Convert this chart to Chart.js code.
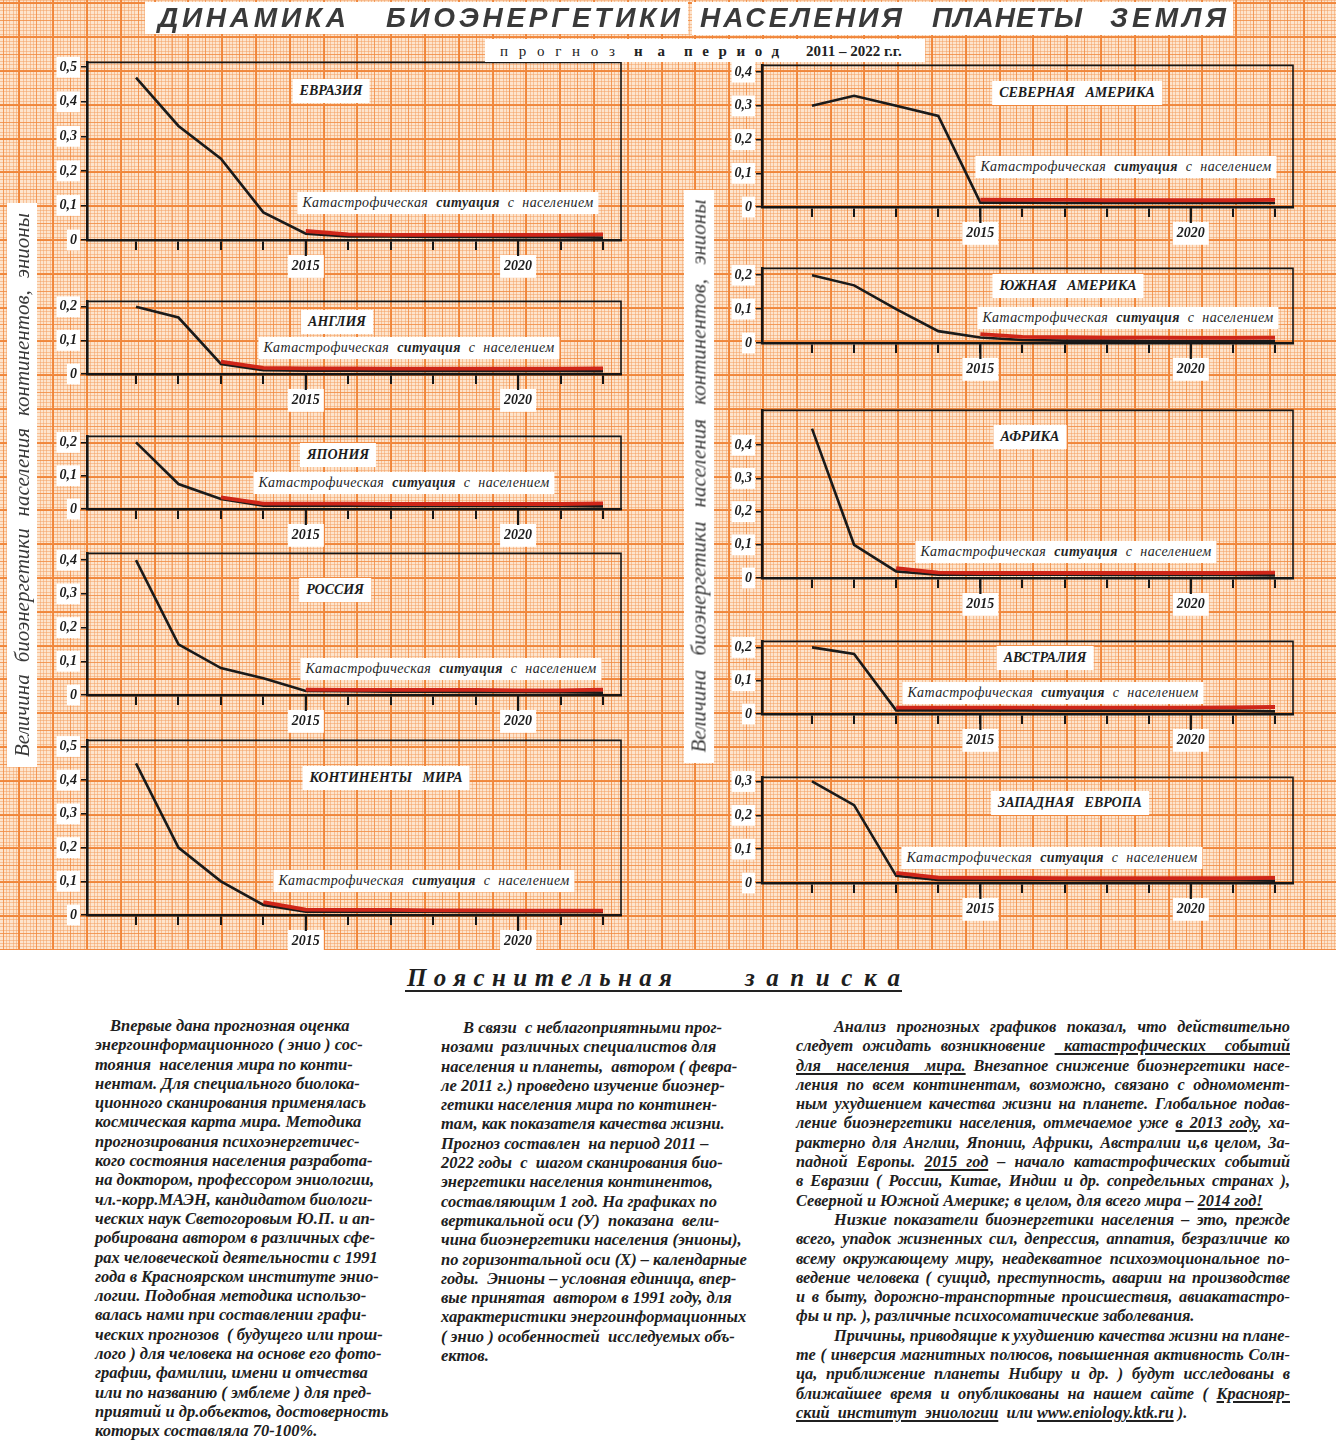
<!DOCTYPE html>
<html lang="ru">
<head>
<meta charset="utf-8">
<title>Динамика биоэнергетики населения планеты Земля</title>
<script src="https://cdn.jsdelivr.net/npm/chart.js@4.4.1/dist/chart.umd.min.js"></script>
<style>
html, body { margin: 0; padding: 0; background: #fff; }
body { width: 1340px; height: 1455px; position: relative; overflow: hidden; font-family: "Liberation Serif", "DejaVu Serif", serif; color: #222; }
#paper { position: absolute; left: 0; top: 0; }
.chart { position: absolute; }
.tag { position: absolute; background: #fff; white-space: pre; transform: translate(-50%, -50%); font: bold italic 14px "Liberation Serif"; color: #1c1c1c; padding: 4px 7px; }
.note { position: absolute; background: #fff; white-space: nowrap; transform: translate(-50%, -50%); font: italic 14px "Liberation Serif"; color: #262626; padding: 3px 5px; letter-spacing: 0.4px; word-spacing: 4px; }
.strip { position: absolute; background: #fff; }
.word { position: absolute; white-space: pre; transform: translateY(-50%); }
.vtitle { position: absolute; background: #fff; transform: rotate(-90deg); font: italic 21px "Liberation Serif"; color: #3a3a3a; text-align: justify; text-align-last: justify; white-space: normal; height: 30px; line-height: 30px; padding: 0 10px; box-sizing: content-box; }
.col { position: absolute; font: bold italic 16.5px "Liberation Serif"; color: #202020; }
.col div { height: 19.3px; line-height: 19.3px; white-space: pre; }
.col.just { font-size: 16.3px; }
.col.just div { white-space: nowrap; }
u { text-decoration-thickness: 1.5px; text-underline-offset: 2px; }
</style>
</head>
<body>
<canvas id="paper" width="1336" height="950"></canvas>

<script>
// годы прогноза
const years = [2011, 2012, 2013, 2014, 2015, 2016, 2017, 2018, 2019, 2020, 2021, 2022];
const labeledYears = [2015, 2020];

// деления вертикальной оси
const ticks05 = [0, 0.1, 0.2, 0.3, 0.4, 0.5];
const ticks04 = [0, 0.1, 0.2, 0.3, 0.4];
const ticks03 = [0, 0.1, 0.2, 0.3];
const ticks02 = [0, 0.1, 0.2];

// биоэнергетика (энионы): черная линия и красная "катастрофическая" линия
const eurasiaLine = [0.47, 0.33, 0.235, 0.08, 0.018, 0.01, 0.01, 0.009, 0.009, 0.008, 0.008, 0.007];
const eurasiaRed = [null, null, null, null, 0.026, 0.016, 0.015, 0.015, 0.015, 0.015, 0.015, 0.016];
const englandLine = [0.2, 0.168, 0.03, 0.011, 0.01, 0.01, 0.009, 0.009, 0.009, 0.009, 0.009, 0.008];
const englandRed = [null, null, 0.037, 0.018, 0.017, 0.017, 0.016, 0.016, 0.016, 0.016, 0.016, 0.017];
const japanLine = [0.2, 0.075, 0.03, 0.01, 0.01, 0.01, 0.009, 0.009, 0.009, 0.009, 0.009, 0.008];
const japanRed = [null, null, 0.035, 0.016, 0.016, 0.016, 0.015, 0.015, 0.015, 0.015, 0.015, 0.017];
const russiaLine = [0.4, 0.15, 0.08, 0.05, 0.012, 0.011, 0.01, 0.01, 0.009, 0.009, 0.008, 0.007];
const russiaRed = [null, null, null, null, 0.016, 0.015, 0.015, 0.015, 0.015, 0.014, 0.014, 0.016];
const worldLine = [0.45, 0.2, 0.1, 0.03, 0.01, 0.01, 0.01, 0.01, 0.009, 0.009, 0.009, 0.009];
const worldRed = [null, null, null, 0.038, 0.016, 0.015, 0.015, 0.014, 0.014, 0.013, 0.013, 0.013];
const northAmLine = [0.3, 0.33, 0.3, 0.27, 0.013, 0.013, 0.012, 0.012, 0.012, 0.012, 0.012, 0.012];
const northAmRed = [null, null, null, null, 0.022, 0.021, 0.021, 0.02, 0.02, 0.02, 0.02, 0.021];
const southAmLine = [0.2, 0.17, 0.1, 0.035, 0.016, 0.009, 0.007, 0.007, 0.006, 0.006, 0.006, 0.006];
const southAmRed = [null, null, null, null, 0.026, 0.018, 0.017, 0.016, 0.016, 0.015, 0.015, 0.016];
const africaLine = [0.45, 0.1, 0.02, 0.01, 0.01, 0.01, 0.01, 0.009, 0.009, 0.009, 0.009, 0.008];
const africaRed = [null, null, 0.03, 0.016, 0.015, 0.015, 0.015, 0.015, 0.015, 0.015, 0.015, 0.016];
const australiaLine = [0.2, 0.18, 0.011, 0.011, 0.011, 0.011, 0.01, 0.01, 0.01, 0.01, 0.01, 0.008];
const australiaRed = [null, null, 0.019, 0.019, 0.019, 0.019, 0.019, 0.019, 0.019, 0.019, 0.02, 0.021];
const westEuLine = [0.3, 0.23, 0.021, 0.009, 0.009, 0.009, 0.009, 0.008, 0.008, 0.008, 0.008, 0.007];
const westEuRed = [null, null, 0.03, 0.016, 0.015, 0.015, 0.014, 0.014, 0.014, 0.014, 0.014, 0.015];

const noteText = "Катастрофическая <b>ситуация</b> с населением";

/* колонки страницы: ось Y, правая рамка, пиксели 2011 и 2022 */
const colL = { axis: 87, right: 621, px2011: 136, px2022: 603 };
const colR = { axis: 762, right: 1293, px2011: 812, px2022: 1275 };

const panels = [
  { name: "ЕВРАЗИЯ", line: eurasiaLine, red: eurasiaRed, ticks: ticks05, yMax: 0.514, col: colL, top: 62, bottom: 240, tag: [331, 91], note: [448, 203] },
  { name: "АНГЛИЯ", line: englandLine, red: englandRed, ticks: ticks02, yMax: 0.216, col: colL, top: 301, bottom: 374, tag: [337, 322], note: [409, 348] },
  { name: "ЯПОНИЯ", line: japanLine, red: japanRed, ticks: ticks02, yMax: 0.218, col: colL, top: 436, bottom: 509, tag: [338, 455], note: [404, 483] },
  { name: "РОССИЯ", line: russiaLine, red: russiaRed, ticks: ticks04, yMax: 0.42, col: colL, top: 553, bottom: 695, tag: [335, 590], note: [451, 669] },
  { name: "КОНТИНЕНТЫ   МИРА", line: worldLine, red: worldRed, ticks: ticks05, yMax: 0.518, col: colL, top: 740, bottom: 915, tag: [386, 778], note: [424, 881] },
  { name: "СЕВЕРНАЯ   АМЕРИКА", line: northAmLine, red: northAmRed, ticks: ticks04, yMax: 0.42, col: colR, top: 65, bottom: 207, tag: [1077, 93], note: [1126, 167] },
  { name: "ЮЖНАЯ   АМЕРИКА", line: southAmLine, red: southAmRed, ticks: ticks02, yMax: 0.22, col: colR, top: 268, bottom: 343, tag: [1068, 286], note: [1128, 318] },
  { name: "АФРИКА", line: africaLine, red: africaRed, ticks: ticks04, yMax: 0.505, col: colR, top: 410, bottom: 578, tag: [1030, 437], note: [1066, 552] },
  { name: "АВСТРАЛИЯ", line: australiaLine, red: australiaRed, ticks: ticks02, yMax: 0.218, col: colR, top: 641, bottom: 714, tag: [1045, 658], note: [1053, 693] },
  { name: "ЗАПАДНАЯ   ЕВРОПА", line: westEuLine, red: westEuRed, ticks: ticks03, yMax: 0.312, col: colR, top: 777, bottom: 883, tag: [1070, 803], note: [1052, 858] }
];

/* миллиметровка */
function drawPaper() {
  const c = document.getElementById("paper");
  const g = c.getContext("2d");
  const W = c.width, H = c.height;
  g.fillStyle = "#fde4cd";
  g.fillRect(0, 0, W, H);
  const big = 33.8, fine = big / 10;
  const offX = 87 % big, offY = 240 % big;
  function lines(step, ox, oy, color, width) {
    g.strokeStyle = color;
    g.lineWidth = width;
    g.beginPath();
    const half = width % 2 ? 0.5 : 0;
    for (let x = ox; x < W; x += step) {
      const px = Math.round(x) + half;
      g.moveTo(px, 0); g.lineTo(px, H);
    }
    for (let y = oy; y < H; y += step) {
      const py = Math.round(y) + half;
      g.moveTo(0, py); g.lineTo(W, py);
    }
    g.stroke();
  }
  lines(fine, offX % fine, offY % fine, "rgba(243,158,96,0.5)", 1);
  lines(fine * 5, offX % (fine * 5), offY % (fine * 5), "rgba(241,138,66,0.7)", 1);
  lines(big, offX, offY, "rgba(240,132,56,0.92)", 2);
}
drawPaper();

const framePlugin = {
  id: "frame",
  beforeDatasetsDraw(chart) {
    const { ctx, chartArea: a } = chart;
    ctx.save();
    ctx.strokeStyle = "#161616";
    ctx.lineWidth = 1.6;
    ctx.beginPath();
    ctx.moveTo(a.left, a.top);
    ctx.lineTo(a.right, a.top);
    ctx.lineTo(a.right, a.bottom);
    ctx.stroke();
    ctx.restore();
  }
};

const longTicks = {
  id: "longTicks",
  afterDraw(chart) {
    const { ctx, chartArea: a } = chart;
    const sx = chart.scales.x;
    ctx.save();
    ctx.strokeStyle = "#161616";
    ctx.lineWidth = 2.2;
    labeledYears.forEach(v => {
      const px = sx.getPixelForValue(v);
      ctx.beginPath();
      ctx.moveTo(px, a.bottom);
      ctx.lineTo(px, a.bottom + 16);
      ctx.stroke();
    });
    ctx.restore();
  }
};

const AXW = 52, PADT = 12, PADR = 10, XH = 40;

function makePanel(p) {
  const col = p.col;
  const perYear = (col.px2022 - col.px2011) / 11;
  const xMin = 2011 - (col.px2011 - col.axis) / perYear;
  const xMax = 2022 + (col.right - col.px2022) / perYear;

  const cv = document.createElement("canvas");
  cv.className = "chart";
  const w = col.right - col.axis + AXW + PADR;
  const h = p.bottom - p.top + PADT + XH;
  cv.width = w; cv.height = h;
  cv.style.left = (col.axis - AXW) + "px";
  cv.style.top = (p.top - PADT) + "px";
  document.body.appendChild(cv);

  const tickFont = { family: "Liberation Serif", size: 14, weight: "bold", style: "italic" };

  new Chart(cv, {
    type: "line",
    data: {
      datasets: [
        {
          data: years.map((y, k) => ({ x: y, y: p.red[k] })),
          borderColor: "#cf2619",
          borderWidth: 3.8,
          pointRadius: 0,
          tension: 0,
          spanGaps: false
        },
        {
          data: years.map((y, k) => ({ x: y, y: p.line[k] })),
          borderColor: "#1a1a1a",
          borderWidth: 2.6,
          pointRadius: 0,
          tension: 0
        }
      ]
    },
    options: {
      responsive: false,
      animation: false,
      layout: { padding: { top: PADT, right: PADR, left: 0, bottom: 0 } },
      plugins: { legend: { display: false }, tooltip: { enabled: false } },
      scales: {
        x: {
          type: "linear",
          min: xMin,
          max: xMax,
          afterBuildTicks: s => { s.ticks = years.map(v => ({ value: v })); },
          afterFit: s => { s.height = XH; },
          grid: { drawOnChartArea: false, drawTicks: true, tickLength: 10, color: "#161616", lineWidth: 2 },
          border: { display: true, color: "#161616", width: 2.6 },
          ticks: {
            autoSkip: false,
            maxRotation: 0,
            padding: 8,
            color: "#1c1c1c",
            font: tickFont,
            callback: v => labeledYears.includes(v) ? String(v) : "",
            showLabelBackdrop: true,
            backdropColor: c => labeledYears.includes(c.tick && c.tick.value) ? "#ffffff" : "rgba(0,0,0,0)",
            backdropPadding: { x: 4, y: 3 }
          }
        },
        y: {
          min: 0,
          max: p.yMax,
          afterBuildTicks: s => { s.ticks = p.ticks.map(v => ({ value: v })); },
          afterFit: s => { s.width = AXW; },
          grid: { drawOnChartArea: false, drawTicks: true, tickLength: 6, color: "#161616", lineWidth: 1.5 },
          border: { display: true, color: "#161616", width: 2.6 },
          ticks: {
            padding: 4,
            color: "#1c1c1c",
            font: tickFont,
            callback: v => v === 0 ? "0" : v.toFixed(1).replace(".", ","),
            showLabelBackdrop: true,
            backdropColor: "#ffffff",
            backdropPadding: { x: 3, y: 2 }
          }
        }
      }
    },
    plugins: [framePlugin, longTicks]
  });

  const tag = document.createElement("div");
  tag.className = "tag";
  tag.textContent = p.name;
  tag.style.left = p.tag[0] + "px";
  tag.style.top = p.tag[1] + "px";
  document.body.appendChild(tag);

  const note = document.createElement("div");
  note.className = "note";
  note.innerHTML = noteText;
  note.style.left = p.note[0] + "px";
  note.style.top = p.note[1] + "px";
  document.body.appendChild(note);
}

panels.forEach(makePanel);
</script>

<!-- заголовок -->
<div class="strip" style="left:145px;top:2px;width:543px;height:32px;"></div>
<div class="strip" style="left:692px;top:2px;width:541px;height:33px;"></div>
<div class="word fit" data-l="158" data-r="346" style="top:18px;font:bold italic 28px 'Liberation Sans';color:#3a3a3a;">ДИНАМИКА</div>
<div class="word fit" data-l="386" data-r="680" style="top:18px;font:bold italic 28px 'Liberation Sans';color:#3a3a3a;">БИОЭНЕРГЕТИКИ</div>
<div class="word fit" data-l="700" data-r="902" style="top:18px;font:bold italic 28px 'Liberation Sans';color:#3a3a3a;">НАСЕЛЕНИЯ</div>
<div class="word fit" data-l="932" data-r="1082" style="top:18px;font:bold italic 28px 'Liberation Sans';color:#3a3a3a;">ПЛАНЕТЫ</div>
<div class="word fit" data-l="1110" data-r="1226" style="top:18px;font:bold italic 28px 'Liberation Sans';color:#3a3a3a;">ЗЕМЛЯ</div>

<div class="strip" style="left:485px;top:39px;width:440px;height:23px;"></div>
<div class="word fit" data-l="500" data-r="615" style="top:51px;font:15px 'Liberation Serif';color:#222;">прогноз</div>
<div class="word fit" data-l="634" data-r="665" style="top:51px;font:bold 15px 'Liberation Serif';color:#222;">на</div>
<div class="word fit" data-l="684" data-r="779" style="top:51px;font:bold 15px 'Liberation Serif';color:#222;">период</div>
<div class="word" style="left:806px;top:51px;font:bold 15px 'Liberation Serif';color:#222;">2011 – 2022 г.г.</div>

<!-- подписи вертикальных осей -->
<div class="vtitle" style="left:-260px;top:470px;width:544px;">Величина биоэнергетики населения континентов, энионы</div>
<div class="vtitle" style="left:412px;top:461px;width:553px;">Величина биоэнергетики населения континентов, энионы</div>

<!-- пояснительная записка -->
<div class="word fit" data-l="407" data-r="672" style="top:978px;font:bold italic 25px 'Liberation Serif';color:#1e1e1e;">Пояснительная</div>
<div class="word fit" data-l="745" data-r="900" style="top:978px;font:bold italic 25px 'Liberation Serif';color:#1e1e1e;">записка</div>
<div class="strip" style="left:405px;top:990px;width:497px;height:2px;background:#222;"></div>

<div class="col" id="c1" style="left:95px;top:1016px;width:300px;"></div>
<div class="col" id="c2" style="left:441px;top:1018px;width:320px;"></div>
<div class="col just" id="c3" style="left:796px;top:1017px;width:494px;"></div>

<script>
const col1 = [
  ">Впервые дана прогнозная оценка",
  "энергоинформационного ( энио ) сос-",
  "тояния  населения мира по конти-",
  "нентам. Для специального биолока-",
  "ционного сканирования применялась",
  "космическая карта мира. Методика",
  "прогнозирования психоэнергетичес-",
  "кого состояния населения разработа-",
  "на доктором, профессором эниологии,",
  "чл.-корр.МАЭН, кандидатом биологи-",
  "ческих наук Светогоровым Ю.П. и ап-",
  "робирована автором в различных сфе-",
  "рах человеческой деятельности с 1991",
  "года в Красноярском институте энио-",
  "логии. Подобная методика использо-",
  "валась нами при составлении графи-",
  "ческих прогнозов  ( будущего или прош-",
  "лого ) для человека на основе его фото-",
  "графии, фамилии, имени и отчества",
  "или по названию ( эмблеме ) для пред-",
  "приятий и др.объектов, достоверность",
  "которых составляла 70-100%."
];
const col2 = [
  ">В связи  с неблагоприятными прог-",
  "нозами  различных специалистов для",
  "населения и планеты,  автором ( февра-",
  "ле 2011 г.) проведено изучение биоэнер-",
  "гетики населения мира по континен-",
  "там, как показателя качества жизни.",
  "Прогноз составлен  на период 2011 –",
  "2022 годы  с  шагом сканирования био-",
  "энергетики населения континентов,",
  "составляющим 1 год. На графиках по",
  "вертикальной оси (У)  показана  вели-",
  "чина биоэнергетики населения (энионы),",
  "по горизонтальной оси (Х) – календарные",
  "годы.  Энионы – условная единица, впер-",
  "вые принятая  автором в 1991 году, для",
  "характеристики энергоинформационных",
  "( энио ) особенностей  исследуемых объ-",
  "ектов."
];
const col3 = [
  ">Анализ прогнозных графиков показал, что действительно",
  "следует ожидать возникновение <u>&nbsp;катастрофических&nbsp; событий</u>",
  "<u>для&nbsp; населения&nbsp; мира.</u> Внезапное снижение биоэнергетики насе-",
  "ления по всем континентам, возможно, связано с одномомент-",
  "ным ухудшением качества жизни на планете. Глобальное подав-",
  "ление биоэнергетики населения, отмечаемое уже <u>в 2013 году</u>, ха-",
  "рактерно для Англии, Японии, Африки, Австралии и,в целом, За-",
  "падной Европы. <u>2015 год</u> – начало катастрофических событий",
  "в Евразии ( России, Китае, Индии и др. сопредельных странах ),",
  "|Северной и Южной Америке; в целом, для всего  мира – <u>2014 год!</u>",
  ">Низкие показатели биоэнергетики населения – это, прежде",
  "всего, упадок жизненных сил, депрессия, аппатия, безразличие ко",
  "всему окружающему миру, неадекватное психоэмоциональное по-",
  "ведение человека ( суицид, преступность, аварии на производстве",
  "и в быту, дорожно-транспортные происшествия, авиакатастро-",
  "|фы и пр. ), различные психосоматические заболевания.",
  ">Причины, приводящие к ухудшению качества жизни на плане-",
  "те ( инверсия магнитных полюсов, повышенная активность Солн-",
  "ца, приближение планеты Нибиру и др. ) будут исследованы в",
  "ближайшее время и опубликованы на нашем сайте ( <u>Краснояр-</u>",
  "|<u>ский&nbsp; институт&nbsp; эниологии</u>&nbsp; или&nbsp;<u>www.eniology.ktk.ru</u> )."
];

function fillColumn(id, lines, indent, justify) {
  const box = document.getElementById(id);
  const full = box.getBoundingClientRect().width;
  lines.forEach(t => {
    const d = document.createElement("div");
    let ind = 0, last = false;
    if (t[0] === ">") { t = t.slice(1); ind = indent; }
    if (t[0] === "|") { t = t.slice(1); last = true; }
    d.style.paddingLeft = ind + "px";
    d.innerHTML = t;
    box.appendChild(d);
    if (justify && !last) {
      // растягиваем пробелы, чтобы строка доходила до правого края
      const s = document.createElement("span");
      s.innerHTML = t;
      d.innerHTML = "";
      d.appendChild(s);
      const natural = s.getBoundingClientRect().width;
      const txt = s.textContent.replace(/ +/g, " ").replace(/^ +| +$/g, "");
      const gaps = (txt.match(/[ \u00a0]/g) || []).length;
      if (gaps > 0) d.style.wordSpacing = ((full - ind - natural) / gaps) + "px";
    }
  });
}
fillColumn("c1", col1, 15, false);
fillColumn("c2", col2, 22, false);
fillColumn("c3", col3, 38, true);

// растянуть разрядку слов заголовков до нужной ширины
document.querySelectorAll(".fit").forEach(el => {
  const l = +el.dataset.l, r = +el.dataset.r;
  el.style.left = l + "px";
  el.style.letterSpacing = "0px";
  const natural = el.getBoundingClientRect().width;
  const n = el.textContent.length;
  el.style.letterSpacing = ((r - l - natural) / (n - 1)) + "px";
});
</script>
</body>
</html>
